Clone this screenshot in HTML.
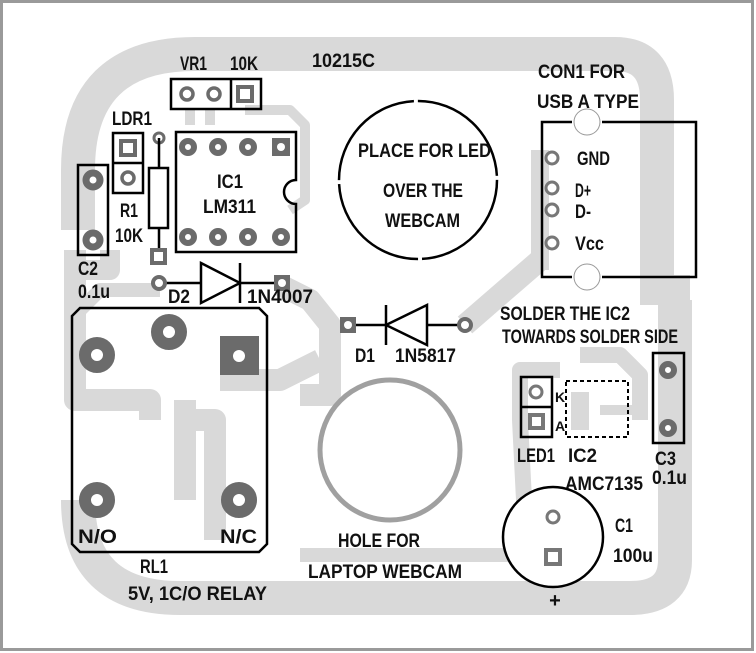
<!DOCTYPE html>
<html><head><meta charset="utf-8"><style>
html,body{margin:0;padding:0;background:#fff;}
svg{display:block;}
text{font-family:"Liberation Sans",sans-serif;font-weight:bold;font-size:19px;fill:#111;}
</style></head><body>
<svg width="756" height="653" viewBox="0 0 756 653" xmlns="http://www.w3.org/2000/svg">
<rect x="1.5" y="1.5" width="751" height="648" fill="#fff" stroke="#9a9a9a" stroke-width="3"/>
<g fill="none" stroke="#d9d9d9" stroke-linejoin="round">
<path d="M78 230 L78 170 Q78 54 195 54 L615 54 Q657 54 657 100 L657 300" stroke-width="34"/>
<path d="M675 300 L675 560 Q675 598 630 598 L180 598 Q78 598 78 500" stroke-width="34"/>
<path d="M640 290 L690 290" stroke-width="30"/>
<path d="M75 250 L75 400 L150 400 L150 420" stroke-width="22"/>
<path d="M190 110 L190 125 M210 110 L210 125 M245 110 L290 110 L305 125 L305 200 L290 210" stroke-width="10"/>
<path d="M110 250 L110 270 L80 270" stroke-width="20"/>
<path d="M160 290 L100 290 L80 310" stroke-width="14"/>
<path d="M280 285 L310 300 L330 325 L330 395 L300 395" stroke-width="22"/>
<path d="M220 380 L280 380 L320 360" stroke-width="22"/>
<path d="M185 400 L185 500 M195 420 L215 420 L215 540" stroke-width="22"/>
<path d="M465 325 L540 260" stroke-width="22"/>
<path d="M540 150 L540 270" stroke-width="18"/>
<path d="M560 370 L520 370 L520 420 L525 520 L545 520" stroke-width="16"/>
<path d="M580 355 L620 355 L640 375 L640 420" stroke-width="16"/>
<path d="M300 555 L500 555 L545 555" stroke-width="14"/>
<path d="M600 410 L640 410" stroke-width="10"/>
</g>
<!-- VR1 -->
<rect x="171" y="79" width="90" height="30" fill="none" stroke="#000" stroke-width="2.5"/>
<line x1="231" y1="79" x2="231" y2="109" stroke="#000" stroke-width="2.5"/>
<g fill="none" stroke="#6b6b6b" stroke-width="3.5"><circle cx="187" cy="94" r="6"/><circle cx="214" cy="94" r="6"/></g>
<rect x="238" y="87" width="14" height="14" fill="#fff" stroke="#6b6b6b" stroke-width="4"/>
<text x="180" y="70" textLength="27" lengthAdjust="spacingAndGlyphs">VR1</text>
<text x="230" y="70" textLength="28" lengthAdjust="spacingAndGlyphs">10K</text>
<text x="312" y="67" textLength="63" lengthAdjust="spacingAndGlyphs">10215C</text>
<!-- LDR1 -->
<rect x="113" y="133" width="30" height="60" fill="none" stroke="#000" stroke-width="2.5"/>
<line x1="113" y1="163" x2="143" y2="163" stroke="#000" stroke-width="2.5"/>
<rect x="121" y="141" width="14" height="14" fill="#fff" stroke="#6b6b6b" stroke-width="4"/>
<circle cx="128" cy="178" r="6" fill="none" stroke="#6b6b6b" stroke-width="3.5"/>
<text x="112" y="125" textLength="40" lengthAdjust="spacingAndGlyphs">LDR1</text>
<!-- C2 -->
<rect x="78" y="165" width="30" height="90" fill="none" stroke="#000" stroke-width="2.5"/>
<g fill="#fff" stroke="#6b6b6b" stroke-width="7"><circle cx="93" cy="180" r="7"/><circle cx="93" cy="240" r="7"/></g>
<text x="78" y="275" textLength="20" lengthAdjust="spacingAndGlyphs">C2</text>
<text x="78" y="298" textLength="32" lengthAdjust="spacingAndGlyphs">0.1u</text>
<!-- R1 -->
<circle cx="159" cy="138" r="5" fill="#fff" stroke="#6b6b6b" stroke-width="3"/>
<line x1="159" y1="138" x2="159" y2="256" stroke="#000" stroke-width="2.5"/>
<rect x="149" y="168" width="19" height="60" fill="#fff" stroke="#000" stroke-width="2.5"/>
<rect x="152" y="250" width="13" height="13" fill="#fff" stroke="#6b6b6b" stroke-width="4"/>
<text x="120" y="217" textLength="18" lengthAdjust="spacingAndGlyphs">R1</text>
<text x="115" y="242" textLength="28" lengthAdjust="spacingAndGlyphs">10K</text>
<!-- IC1 -->
<path d="M176 132 H296 V180 A12 12 0 0 0 296 204 V252 H176 Z" fill="none" stroke="#000" stroke-width="2.5"/>
<g fill="#fff" stroke="#6b6b6b" stroke-width="6"><circle cx="188" cy="147" r="6"/><circle cx="218" cy="147" r="6"/><circle cx="248" cy="147" r="6"/><circle cx="188" cy="237" r="6"/><circle cx="218" cy="237" r="6"/><circle cx="248" cy="237" r="6"/><circle cx="281" cy="237" r="6"/></g>
<rect x="272" y="138" width="18" height="18" fill="#6b6b6b"/><circle cx="281" cy="147" r="4" fill="#fff"/>
<text x="217" y="188" textLength="26" lengthAdjust="spacingAndGlyphs">IC1</text>
<text x="203" y="213" textLength="53" lengthAdjust="spacingAndGlyphs">LM311</text>
<!-- D2 -->
<line x1="159" y1="283" x2="282" y2="283" stroke="#000" stroke-width="2.5"/>
<circle cx="159" cy="283" r="6" fill="#fff" stroke="#6b6b6b" stroke-width="4"/>
<rect x="274" y="275" width="16" height="16" fill="#6b6b6b"/><circle cx="282" cy="283" r="4" fill="#fff"/>
<path d="M201 263 L240 283 L201 303 Z" fill="#fff" stroke="#000" stroke-width="2.5"/>
<line x1="240" y1="263" x2="240" y2="303" stroke="#000" stroke-width="2.5"/>
<text x="168" y="303" textLength="22" lengthAdjust="spacingAndGlyphs">D2</text>
<text x="247" y="303" textLength="66" lengthAdjust="spacingAndGlyphs">1N4007</text>
<!-- Relay -->
<path d="M80 308 H259 L267 316 V544 L259 552 H80 L72 544 V316 Z" fill="none" stroke="#000" stroke-width="2.5"/>
<g fill="#fff" stroke="#6b6b6b" stroke-width="12"><circle cx="97" cy="355" r="12"/><circle cx="169" cy="332" r="12"/><circle cx="97" cy="500" r="12"/><circle cx="239" cy="500" r="12"/></g>
<rect x="220" y="336" width="39" height="39" fill="#6b6b6b"/><circle cx="239" cy="356" r="6" fill="#fff"/>
<text x="78" y="543" textLength="39" lengthAdjust="spacingAndGlyphs">N/O</text>
<text x="220" y="543" textLength="37" lengthAdjust="spacingAndGlyphs">N/C</text>
<text x="140" y="573" textLength="28" lengthAdjust="spacingAndGlyphs">RL1</text>
<text x="128" y="600" textLength="139" lengthAdjust="spacingAndGlyphs">5V, 1C/O RELAY</text>
<!-- D1 -->
<line x1="348" y1="325" x2="465" y2="325" stroke="#000" stroke-width="2.5"/>
<rect x="340" y="317" width="16" height="16" fill="#6b6b6b"/><circle cx="348" cy="325" r="4" fill="#fff"/>
<circle cx="465" cy="325" r="6" fill="#fff" stroke="#6b6b6b" stroke-width="4"/>
<path d="M427 305 L386 325 L427 345 Z" fill="#fff" stroke="#000" stroke-width="2.5"/>
<line x1="386" y1="305" x2="386" y2="345" stroke="#000" stroke-width="2.5"/>
<text x="355" y="362" textLength="20" lengthAdjust="spacingAndGlyphs">D1</text>
<text x="395" y="362" textLength="61" lengthAdjust="spacingAndGlyphs">1N5817</text>
<!-- Place circle -->
<circle cx="418" cy="180" r="79" fill="none" stroke="#000" stroke-width="2.5" stroke-dasharray="120 4"/>
<text x="358" y="157" textLength="133" lengthAdjust="spacingAndGlyphs">PLACE FOR LED</text>
<text x="383" y="197" textLength="80" lengthAdjust="spacingAndGlyphs">OVER THE</text>
<text x="385" y="227" textLength="75" lengthAdjust="spacingAndGlyphs">WEBCAM</text>
<!-- hole -->
<circle cx="390" cy="450" r="70" fill="none" stroke="#a0a0a0" stroke-width="5"/>
<text x="338" y="547" textLength="82" lengthAdjust="spacingAndGlyphs">HOLE FOR</text>
<text x="308" y="578" textLength="154" lengthAdjust="spacingAndGlyphs">LAPTOP WEBCAM</text>
<!-- USB -->
<text x="538" y="78" textLength="87" lengthAdjust="spacingAndGlyphs">CON1 FOR</text>
<text x="537" y="108" textLength="102" lengthAdjust="spacingAndGlyphs">USB A TYPE</text>
<path d="M572 122 H542 V277 H572 M602 277 H696 V122 H602" fill="none" stroke="#000" stroke-width="2.5"/>
<g fill="#fff" stroke="#999" stroke-width="1"><circle cx="587" cy="122" r="13"/><circle cx="587" cy="277" r="13"/></g>
<g fill="#fff" stroke="#777" stroke-width="3"><circle cx="552" cy="158" r="6"/><circle cx="552" cy="188" r="6"/><circle cx="552" cy="210" r="6"/><circle cx="552" cy="243" r="6"/></g>
<text x="577" y="165" textLength="33" lengthAdjust="spacingAndGlyphs">GND</text>
<text x="575" y="197" textLength="16" lengthAdjust="spacingAndGlyphs">D+</text>
<text x="575" y="218" textLength="16" lengthAdjust="spacingAndGlyphs">D-</text>
<text x="575" y="250" textLength="29" lengthAdjust="spacingAndGlyphs">Vcc</text>
<text x="500" y="320" textLength="130" lengthAdjust="spacingAndGlyphs">SOLDER THE IC2</text>
<text x="502" y="343" textLength="176" lengthAdjust="spacingAndGlyphs">TOWARDS SOLDER SIDE</text>
<!-- LED1 / IC2 -->
<rect x="521" y="377" width="31" height="60" fill="none" stroke="#000" stroke-width="2.5"/>
<line x1="521" y1="407" x2="552" y2="407" stroke="#000" stroke-width="2.5"/>
<circle cx="536" cy="392" r="6" fill="none" stroke="#777" stroke-width="3"/>
<rect x="530" y="415" width="13" height="13" fill="#fff" stroke="#777" stroke-width="4"/>
<text x="555" y="402" style="font-size:14px">K</text><text x="555" y="431" style="font-size:14px">A</text>
<rect x="566" y="381" width="62" height="56" fill="none" stroke="#000" stroke-width="2" stroke-dasharray="4 3"/>
<rect x="571" y="392" width="18" height="38" fill="#d9d9d9"/>
<text x="517" y="462" textLength="38" lengthAdjust="spacingAndGlyphs">LED1</text>
<text x="568" y="462" textLength="29" lengthAdjust="spacingAndGlyphs">IC2</text>
<!-- C3 -->
<rect x="653" y="353" width="31" height="90" fill="none" stroke="#000" stroke-width="2.5"/>
<g fill="#fff" stroke="#6b6b6b" stroke-width="6"><circle cx="668" cy="370" r="6"/><circle cx="668" cy="428" r="6"/></g>
<text x="655" y="465" textLength="21" lengthAdjust="spacingAndGlyphs">C3</text>
<text x="652" y="484" textLength="35" lengthAdjust="spacingAndGlyphs">0.1u</text>
<text x="565" y="490" textLength="78" lengthAdjust="spacingAndGlyphs">AMC7135</text>
<!-- C1 -->
<circle cx="553" cy="537" r="50" fill="#fff" stroke="#000" stroke-width="2.5"/>
<circle cx="553" cy="517" r="6" fill="#fff" stroke="#777" stroke-width="3"/>
<rect x="546" y="550" width="14" height="14" fill="#fff" stroke="#777" stroke-width="4"/>
<text x="615" y="532" textLength="18" lengthAdjust="spacingAndGlyphs">C1</text>
<text x="613" y="562" textLength="40" lengthAdjust="spacingAndGlyphs">100u</text>
<text x="555" y="607" text-anchor="middle" style="font-size:20px">+</text>
</svg>
</body></html>
